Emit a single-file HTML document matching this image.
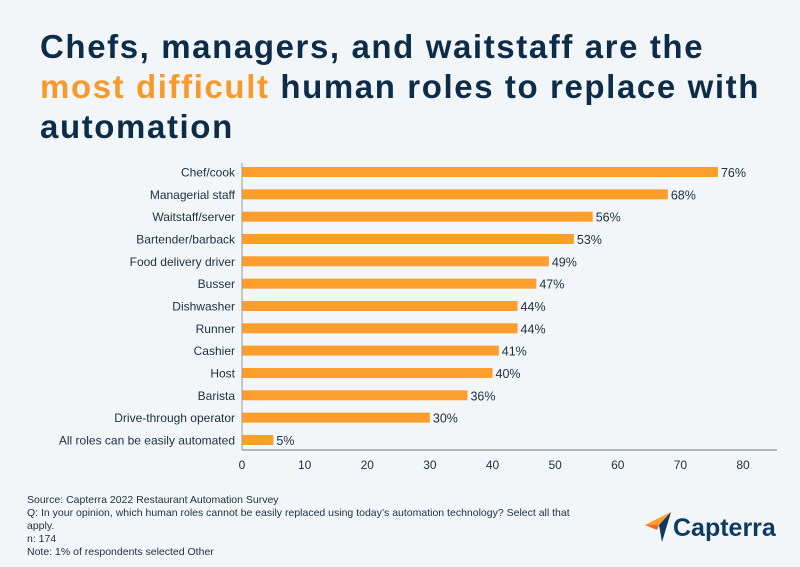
<!DOCTYPE html>
<html><head><meta charset="utf-8"><style>
body{margin:0;width:800px;height:567px;background:#f2f6f9;font-family:"Liberation Sans",sans-serif;overflow:hidden;position:relative}
h1{position:absolute;left:40px;top:27px;margin:0;font-size:33px;line-height:40px;font-weight:bold;color:#0d2c47;letter-spacing:1.6px;white-space:nowrap}
h1 span{color:#f79a2b}
.foot{position:absolute;left:27px;top:494px;font-size:10.5px;line-height:13px;color:#1e2e3e;width:560px}
.logo{position:absolute;left:645px;top:512px;font-size:25px;font-weight:bold;color:#0d3a5f;font-family:"Liberation Sans",sans-serif}
</style></head><body>
<h1>Chefs, managers, and waitstaff are the<br><span>most difficult</span> human roles to replace with<br>automation</h1>
<svg id="chart" width="800" height="567" style="position:absolute;left:0;top:0"></svg>
<div class="foot">Source: Capterra 2022 Restaurant Automation Survey<br>Q: In your opinion, which human roles cannot be easily replaced using today’s automation technology? Select all that apply.<br>n: 174<br>Note: 1% of respondents selected Other</div>
<div class="logo"><svg width="26" height="30" style="vertical-align:-6px"><polygon points="0,13 26,0 14,13" fill="#ff9d28"/><polygon points="14,13 26,0 17,30" fill="#0d3a5f"/><polygon points="0,13 14,13 12,18" fill="#f0662a"/></svg><span style="margin-left:2px">Capterra</span></div>
<script>
const categories=["Chef/cook","Managerial staff","Waitstaff/server","Bartender/barback","Food delivery driver","Busser","Dishwasher","Runner","Cashier","Host","Barista","Drive-through operator","All roles can be easily automated"];
const values=[76,68,56,53,49,47,44,44,41,40,36,30,5];
const ticks=[0,10,20,30,40,50,60,70,80];
const NS="http://www.w3.org/2000/svg";
const svg=document.getElementById('chart');
const x0=242,xs=(743-242)/80,y0=172,step=22.33;
const X=v=>x0+v*xs, Y=i=>y0+i*step;
function mk(t,a,txt){const e=document.createElementNS(NS,t);for(const k in a)e.setAttribute(k,a[k]);if(txt!==undefined)e.textContent=txt;svg.appendChild(e);return e;}
categories.forEach((c,i)=>{
 const b=mk('rect',{x:X(0),y:Y(i)-5,width:X(values[i])-X(0),height:10,fill:'#fd9d2c'});
 
 
 const l=mk('text',{x:235,y:Y(i)+4.5,'text-anchor':'end','font-size':12,fill:'#1e2e3e'},c);
 
 
 const v=mk('text',{x:X(values[i])+3,y:Y(i)+5,'font-size':12.5,fill:'#1e2e3e'},values[i]+'%');
 
 
});
const ax=mk('line',{x1:X(0),y1:450,x2:777,y2:450,stroke:'#777','stroke-width':1});


const ay=mk('line',{x1:X(0),y1:163,x2:X(0),y2:450,stroke:'#999','stroke-width':1});


ticks.forEach(t=>{
 const e=mk('text',{x:X(t),y:469,'text-anchor':'middle','font-size':12,fill:'#1e2e3e'},t);
 
 
});
</script>
</body></html>
